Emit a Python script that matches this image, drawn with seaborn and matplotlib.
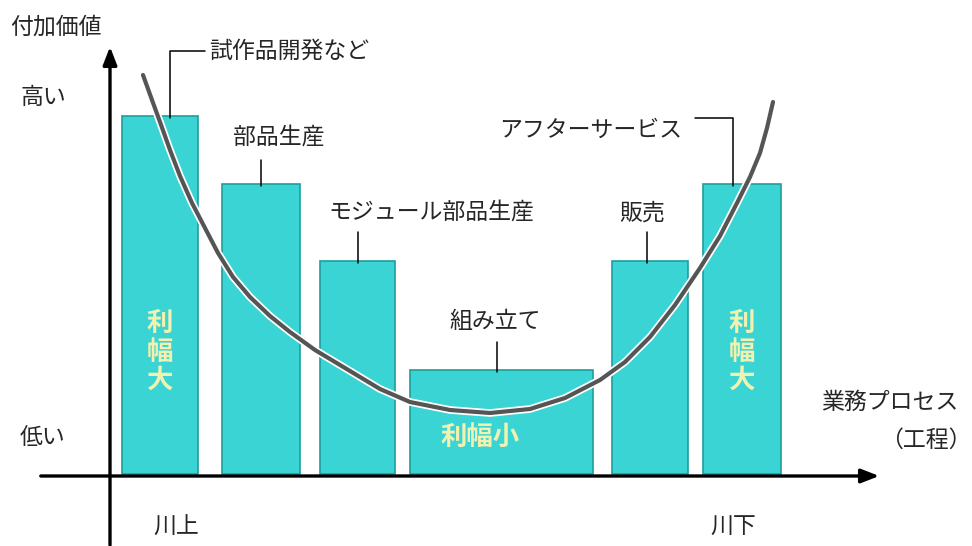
import numpy as np
import pandas as pd
import seaborn as sns
import matplotlib.pyplot as plt
import matplotlib.patheffects as pe

# value chain stages and their value added (1 unit = 100 px in the original)
stages = ['試作品開発など', '部品生産', 'モジュール部品生産', '組み立て', '販売', 'アフターサービス']
value_added = [3.58, 2.90, 2.13, 1.04, 2.13, 2.90]

# bar layout along the process axis
bar_center = [0.50, 1.51, 2.475, 3.915, 5.40, 6.32]
bar_width = [0.76, 0.78, 0.75, 1.83, 0.76, 0.78]

# smile curve
curve_x = [0.33, 0.42, 0.50, 0.60, 0.70, 0.82, 0.95, 1.08, 1.23, 1.40, 1.60,
           1.80, 2.05, 2.40, 2.70, 3.00, 3.40, 3.80, 4.20, 4.55, 4.90, 5.15,
           5.40, 5.65, 5.90, 6.10, 6.27, 6.40, 6.50, 6.57, 6.63]
curve_y = [4.01, 3.76, 3.54, 3.26, 3.00, 2.73, 2.48, 2.23, 1.99, 1.79, 1.60,
           1.44, 1.26, 1.05, 0.87, 0.74, 0.66, 0.63, 0.67, 0.78, 0.96, 1.14,
           1.39, 1.71, 2.08, 2.40, 2.73, 2.99, 3.23, 3.48, 3.74]

sns.set_theme(style='white')
plt.rcParams['font.family'] = ['Noto Sans CJK JP', 'DejaVu Sans']

fig = plt.figure(figsize=(9.72, 5.46), dpi=100)
ax = fig.add_axes([0, 0, 1, 1])
ax.set_xlim(-1.10, 8.62)
ax.set_ylim(-0.70, 4.76)
ax.axis('off')

BAR = '#3bd4d4'
EDGE = '#1e9e9e'
PALE = '#f2f2b0'

ax.bar(bar_center, value_added, width=bar_width, bottom=0.02,
       color=BAR, edgecolor=EDGE, linewidth=1.2, zorder=2)

# axes with arrows
ax.annotate('', xy=(0, 4.32), xytext=(0, -0.72),
            arrowprops=dict(arrowstyle='-|>,head_length=0.9,head_width=0.35',
                            color='black', lw=2.4), zorder=5)
ax.annotate('', xy=(7.72, 0), xytext=(-0.72, 0),
            arrowprops=dict(arrowstyle='-|>,head_length=0.9,head_width=0.35',
                            color='black', lw=2.4), zorder=5)

curve = pd.DataFrame({'x': curve_x, 'y': curve_y})
sns.lineplot(data=curve, x='x', y='y', sort=False, ax=ax, color='#555555',
             linewidth=3.0, zorder=4,
             path_effects=[pe.Stroke(linewidth=5.5, foreground='white'), pe.Normal()])

fs = 16.5
lines = dict(color='black', lw=1.1, zorder=3)
# 試作品開発など
ax.plot([0.60, 0.60, 0.95], [value_added[0], 4.25, 4.25], **lines)
ax.text(0.99, 4.25, stages[0], fontsize=fs, va='center', ha='left')
# 部品生産
ax.plot([1.51, 1.51], [value_added[1], 3.16], **lines)
ax.text(1.69, 3.39, stages[1], fontsize=fs, va='center', ha='center')
# モジュール部品生産
ax.plot([2.48, 2.48], [value_added[2], 2.44], **lines)
ax.text(3.21, 2.64, stages[2], fontsize=fs, va='center', ha='center')
# 組み立て
ax.plot([3.87, 3.87], [value_added[3], 1.34], **lines)
ax.text(3.85, 1.54, stages[3], fontsize=fs, va='center', ha='center')
# 販売
ax.plot([5.37, 5.37], [value_added[4], 2.44], **lines)
ax.text(5.32, 2.63, stages[4], fontsize=fs, va='center', ha='center')
# アフターサービス
ax.plot([6.23, 6.23, 5.85], [value_added[5], 3.58, 3.58], **lines)
ax.text(4.81, 3.46, stages[5], fontsize=fs, va='center', ha='center')

# axis captions
ax.text(-0.54, 4.49, '付加価値', fontsize=fs, ha='center', va='center')
ax.text(-0.67, 3.79, '高い', fontsize=fs, ha='center', va='center')
ax.text(-0.67, 0.39, '低い', fontsize=fs, ha='center', va='center')
ax.text(7.80, 0.74, '業務プロセス', fontsize=fs, ha='center', va='center')
ax.text(8.16, 0.36, '（工程）', fontsize=fs, ha='center', va='center')
ax.text(0.66, -0.51, '川上', fontsize=fs, ha='center', va='center')
ax.text(6.23, -0.51, '川下', fontsize=fs, ha='center', va='center')

# margin labels inside the bars
for xc in (bar_center[0], bar_center[5]):
    ax.text(xc, 1.24, '利\n幅\n大', fontsize=19, color=PALE, fontweight='bold',
            ha='center', va='center', linespacing=1.05, zorder=3)
ax.text(3.70, 0.39, '利幅小', fontsize=19, color=PALE, fontweight='bold',
        ha='center', va='center', zorder=3)

fig.savefig('out.png', dpi=100)
